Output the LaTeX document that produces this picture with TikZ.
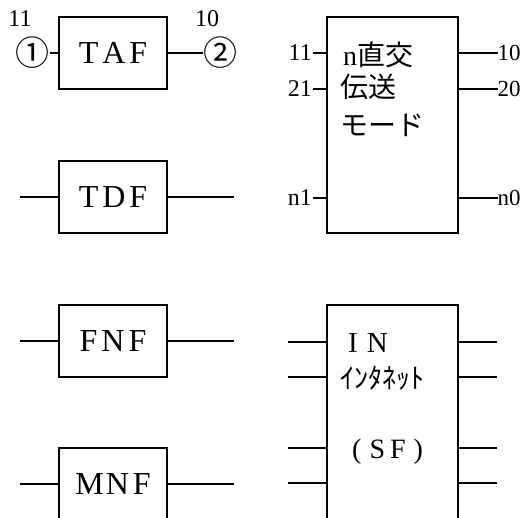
\documentclass[tikz,border=0pt]{standalone}
\usepackage{fontspec}
\setmainfont{Liberation Serif}
\newfontfamily\cjk{Noto Sans CJK JP}
\usetikzlibrary{positioning}

\begin{document}
\begin{tikzpicture}[x=1pt, y=-1pt,
    blk/.style={draw, line width=1.6pt, minimum width=108pt, minimum height=72pt,
                inner sep=0pt, font=\fontsize{32}{32}\selectfont},
    bigblk/.style={draw, line width=1.6pt, minimum width=131pt, inner sep=0pt},
    wire/.style={line width=1.3pt},
    pin/.style={inner sep=1pt, font=\fontsize{24}{24}\selectfont},
    jtxt/.style={anchor=west, inner sep=0pt, font=\fontsize{28}{28}\selectfont}]
  \useasboundingbox (0,0) rectangle (521,517);
  \clip (0,0) rectangle (521,517);
  % TAF with numbered terminals
  \node[blk] (taf) at (113,53) {T\hspace{4pt}A\hspace{4pt}F};
  \node[pin, inner sep=0pt, font=\fontsize{34}{34}\selectfont\cjk] (c1) at (33,53) {①};
  \node[pin, inner sep=0pt, font=\fontsize{34}{34}\selectfont\cjk] (c2) at (220,53) {②};
  \node[pin] (n11) at (20,19) {11};
  \node[pin] (n10) at (207,19) {10};
  \draw[wire] (c1) -- (taf);
  \draw[wire] (taf) -- (c2);
  % other filters
  \foreach \n/\txt/\y in {tdf/T\hspace{4pt}D\hspace{4pt}F/197,
                          fnf/F\hspace{4pt}N\hspace{4pt}F/341,
                          mnf/M\hspace{2pt}N\hspace{4pt}F/484} {
    \node[blk] (\n) at (113,\y) {\txt};
    \coordinate (\n-l) at (20,\y);
    \coordinate (\n-r) at (234,\y);
    \draw[wire] (\n-l) -- (\n);
    \draw[wire] (\n) -- (\n-r);
  }
  % n orthogonal transmission mode
  \node[bigblk, minimum height=216pt] (ortho) at (392.5,125) {};
  \node[jtxt] (t1) at (343,55) {n\cjk 直交};
  \node[jtxt] (t2) at (340,87) {\cjk 伝送};
  \node[jtxt] (t3) at (340,125) {\cjk モード};
  \foreach \y/\a/\b in {53/11/10, 89/21/20, 198/n1/n0} {
    \node[pin, anchor=east] (in\a) at (313,\y) {\a};
    \node[pin, anchor=west, inner sep=0pt, font=\fontsize{23}{23}\selectfont] (out\b) at (497.5,\y) {\b};
    \draw[wire] (in\a) -- (in\a -| ortho.west);
    \draw[wire] (ortho.east |- out\b) -- (out\b);
  }
  % IN (SF)
  \node[bigblk, minimum height=230pt] (inet) at (392.5,420) {};
  \node[jtxt, font=\fontsize{29}{29}\selectfont] (s1) at (348,343) {I\hspace{9pt}N};
  \node[jtxt] (s2) at (340,378) {\cjk ｲﾝﾀﾈｯﾄ};
  \node[jtxt, font=\fontsize{28}{28}\selectfont] (s3) at (352,452) {(\hspace{8pt}S\hspace{5pt}F\hspace{8pt})};
  \foreach \y [count=\k] in {342, 377, 448, 483} {
    \coordinate (inet-l\k) at (288,\y);
    \coordinate (inet-r\k) at (497,\y);
    \draw[wire] (inet-l\k) -- (inet-l\k -| inet.west);
    \draw[wire] (inet.east |- inet-r\k) -- (inet-r\k);
  }
\end{tikzpicture}
\end{document}
